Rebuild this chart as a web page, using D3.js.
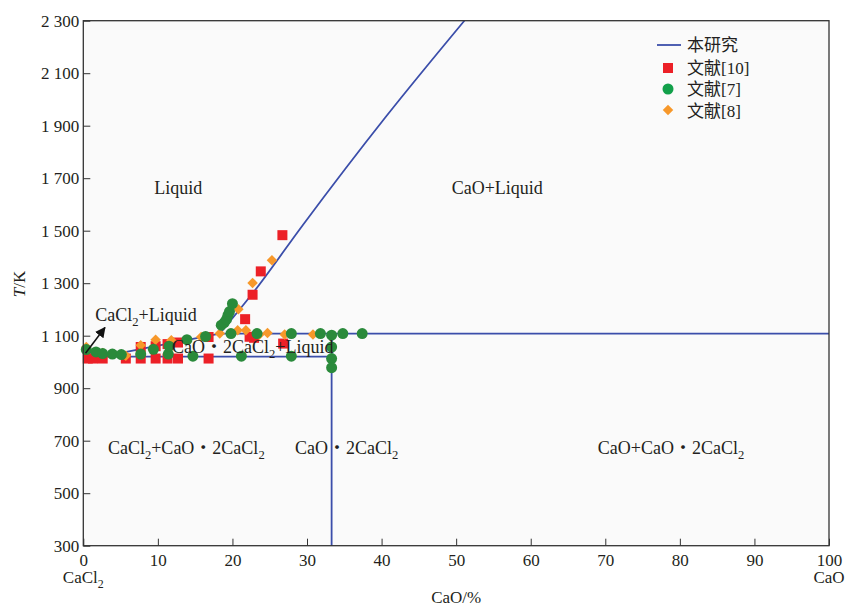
<!doctype html>
<html lang="zh">
<head>
<meta charset="utf-8">
<title>CaCl2-CaO phase diagram</title>
<style>
  body { margin: 0; background: #fff; }
  svg text { font-family: "Liberation Serif", "Noto Sans CJK SC", serif; fill: #231f20; }
</style>
</head>
<body>
<svg id="chart" width="847" height="606"></svg>
<script src="https://cdn.jsdelivr.net/npm/d3@7"></script>
<script>
const xTicks = [0, 10, 20, 30, 40, 50, 60, 70, 80, 90, 100]
const yTicks = [300, 500, 700, 900, 1100, 1300, 1500, 1700, 1900, 2100, 2300]

// 本研究 - calculated phase boundaries [CaO %, T/K]
const cacl2Liquidus = [[0, 1045], [2.5, 1020]]
const eutecticLine = [[0, 1020], [33.3, 1020]]
const compoundLiquidus = [[2.5, 1020], [18.3, 1108]]
const peritecticLine = [[18.3, 1108], [100, 1108]]
const compoundLine = [[33.3, 1108], [33.3, 300]]
const caoLiquidus = [[18.3, 1108], [23, 1272], [29.4, 1520], [40.6, 1935], [51.1, 2300]]

// 文献[10]
const ref10 = [
  [0.6, 1013], [1.3, 1013], [2.6, 1013], [5.7, 1013], [7.7, 1013], [9.7, 1013],
  [11.3, 1013], [12.7, 1013], [16.8, 1013],
  [7.7, 1057], [9.7, 1060], [11.3, 1068], [12.7, 1074],
  [16.8, 1095], [22.3, 1096], [22.9, 1092], [26.8, 1070],
  [21.7, 1163], [22.7, 1256], [23.8, 1345], [26.7, 1483]
]
// 文献[7]
const ref7 = [
  [0.4, 1047], [1.7, 1038], [2.6, 1032], [3.9, 1030], [5.1, 1028], [7.7, 1030],
  [9.4, 1048], [11.4, 1030], [11.5, 1060], [13.9, 1085], [14.7, 1022], [16.4, 1097],
  [18.5, 1140], [18.9, 1150], [19.2, 1162], [19.4, 1178], [19.6, 1192], [20.0, 1222],
  [19.8, 1108], [21.2, 1022], [23.3, 1108], [27.9, 1108], [27.9, 1022], [31.8, 1108],
  [33.3, 1102], [33.3, 1057], [33.3, 1013], [33.3, 978], [34.8, 1108], [37.4, 1108]
]
// 文献[8]
const ref8 = [
  [0.4, 1057], [2.6, 1034], [5.7, 1024], [7.7, 1064], [9.7, 1085], [11.8, 1083],
  [15.8, 1095], [18.3, 1108], [20.7, 1121], [21.8, 1121], [23.6, 1104], [24.7, 1110],
  [27.0, 1105], [30.8, 1105], [20.8, 1201], [22.7, 1301], [25.3, 1387]
]

const legendNames = ['本研究', '文献[10]', '文献[7]', '文献[8]']

const svg = d3.select('#chart')
const x = d3.scaleLinear().domain([0, 100]).range([83.3, 829])
const y = d3.scaleLinear().domain([300, 2300]).range([545.7, 20.7])

const blue = '#3b4eaa'
const red = '#ec2027'
const green = '#2a8a3b'
const orange = '#f7982a'

svg.append('rect')
  .attr('x', x(0)).attr('y', y(2300))
  .attr('width', x(100) - x(0)).attr('height', y(300) - y(2300))
  .attr('fill', '#fafafa')

svg.append('clipPath').attr('id', 'plot')
  .append('rect')
  .attr('x', x(0)).attr('y', y(2300))
  .attr('width', x(100) - x(0)).attr('height', y(300) - y(2300))

// axes
const fmt = d => d3.format(',')(d).replace(',', ' ')
svg.append('g')
  .attr('transform', `translate(0,${y(300)})`)
  .call(d3.axisBottom(x).tickValues(xTicks).tickSizeInner(-7).tickSizeOuter(0).tickPadding(8))
  .call(g => g.select('.domain').remove())
  .call(g => g.selectAll('text').attr('font-size', 17).attr('fill', '#231f20').attr('font-family', null))
  .call(g => g.selectAll('line').attr('stroke', '#333'))
svg.append('g')
  .attr('transform', `translate(${x(0)},0)`)
  .call(d3.axisLeft(y).tickValues(yTicks).tickFormat(fmt).tickSizeInner(-7).tickSizeOuter(0).tickPadding(4))
  .call(g => g.select('.domain').remove())
  .call(g => g.selectAll('text').attr('font-size', 17).attr('fill', '#231f20').attr('font-family', null))
  .call(g => g.selectAll('line').attr('stroke', '#333'))

// phase boundaries
const line = d3.line().x(d => x(d[0])).y(d => y(d[1]))
const lines = svg.append('g').attr('clip-path', 'url(#plot)')
;[cacl2Liquidus, eutecticLine, compoundLiquidus, peritecticLine, compoundLine].forEach(pts => {
  lines.append('path').attr('d', line(pts))
    .attr('fill', 'none').attr('stroke', blue).attr('stroke-width', 1.8)
})
lines.append('path').attr('d', line.curve(d3.curveMonotoneX)(caoLiquidus))
  .attr('fill', 'none').attr('stroke', blue).attr('stroke-width', 1.8)

// literature points
svg.append('g').selectAll('rect').data(ref10).join('rect')
  .attr('x', d => x(d[0]) - 5).attr('y', d => y(d[1]) - 5)
  .attr('width', 10).attr('height', 10).attr('fill', red)
svg.append('g').selectAll('path').data(ref8).join('path')
  .attr('d', d3.symbol(d3.symbolDiamond2, 70))
  .attr('transform', d => `translate(${x(d[0])},${y(d[1])})`)
  .attr('fill', orange)
svg.append('g').selectAll('circle').data(ref7).join('circle')
  .attr('cx', d => x(d[0])).attr('cy', d => y(d[1])).attr('r', 5.5)
  .attr('fill', green)

// frame
svg.append('rect')
  .attr('x', x(0)).attr('y', y(2300))
  .attr('width', x(100) - x(0)).attr('height', y(300) - y(2300))
  .attr('fill', 'none').attr('stroke', '#333').attr('stroke-width', 1.3)

// text with subscript digits marked as _2
function chem(sel, str) {
  const parts = str.split(/_(\d)/)
  parts.forEach((p, i) => {
    if (!p) return
    if (i % 2 === 1) {
      sel.append('tspan').attr('font-size', '0.7em').attr('dy', 5).text(p)
    } else {
      sel.append('tspan').attr('dy', i > 0 ? -5 : 0).text(p)
    }
  })
}

const regions = [
  ['Liquid', 9.5, 1640],
  ['CaO+Liquid', 49.4, 1640],
  ['CaCl_2+Liquid', 1.6, 1156],
  ['CaO・2CaCl_2+Liquid', 11.9, 1034],
  ['CaCl_2+CaO・2CaCl_2', 3.3, 649],
  ['CaO・2CaCl_2', 28.4, 649],
  ['CaO+CaO・2CaCl_2', 69.0, 649]
]
regions.forEach(r => {
  svg.append('text').attr('x', x(r[1])).attr('y', y(r[2]))
    .attr('font-size', 18).call(chem, r[0])
})

// arrow to the CaCl2 liquidus
svg.append('defs').append('marker')
  .attr('id', 'arrow').attr('viewBox', '0 0 10 10')
  .attr('refX', 9).attr('refY', 5)
  .attr('markerWidth', 7).attr('markerHeight', 7)
  .attr('orient', 'auto-start-reverse')
  .append('path').attr('d', 'M0,0L10,5L0,10z').attr('fill', '#111')
svg.append('line')
  .attr('x1', x(0.3)).attr('y1', y(1033))
  .attr('x2', x(2.9)).attr('y2', y(1131))
  .attr('stroke', '#111').attr('stroke-width', 1.5)
  .attr('marker-end', 'url(#arrow)')

// axis titles
svg.append('text')
  .attr('transform', 'translate(25,284) rotate(-90)')
  .attr('text-anchor', 'middle').attr('font-size', 17)
  .call(t => {
    t.append('tspan').attr('font-style', 'italic').text('T')
    t.append('tspan').text('/K')
  })
svg.append('text').attr('x', (x(0) + x(100)) / 2).attr('y', 603)
  .attr('text-anchor', 'middle').attr('font-size', 17).text('CaO/%')
svg.append('text').attr('x', x(0)).attr('y', 583)
  .attr('text-anchor', 'middle').attr('font-size', 17).call(chem, 'CaCl_2')
svg.append('text').attr('x', x(100)).attr('y', 583)
  .attr('text-anchor', 'middle').attr('font-size', 17).text('CaO')

// legend
const legend = svg.append('g')
legend.append('line').attr('x1', 657).attr('x2', 681).attr('y1', 45).attr('y2', 45)
  .attr('stroke', blue).attr('stroke-width', 1.8)
legend.append('rect').attr('x', 663).attr('y', 63).attr('width', 10).attr('height', 10).attr('fill', red)
legend.append('circle').attr('cx', 668).attr('cy', 89).attr('r', 5.5).attr('fill', '#12a04a')
legend.append('path').attr('d', d3.symbol(d3.symbolDiamond2, 70))
  .attr('transform', 'translate(668,110)').attr('fill', orange)
legendNames.forEach((n, i) => {
  legend.append('text').attr('x', 687).attr('y', [51, 74, 95, 117][i])
    .attr('font-size', 17).text(n)
})
</script>
</body>
</html>
